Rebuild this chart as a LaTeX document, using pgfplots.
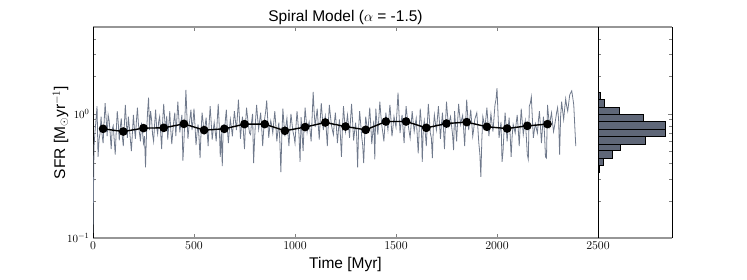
\documentclass[border=0pt]{standalone}
\usepackage{pgfplots}
\pgfplotsset{compat=1.18}
\usepackage{fontspec}
\setmainfont{Liberation Sans}
\definecolor{sfrline}{RGB}{112,122,140}
\definecolor{histfill}{RGB}{95,103,120}
\definecolor{spinegray}{RGB}{150,150,150}
\begin{document}
\begin{tikzpicture}
\useasboundingbox (0pt,0pt) rectangle (747pt,280pt);
\begin{axis}[
  at={(93pt,42pt)}, anchor=south west,
  width=505pt, height=211pt, scale only axis,
  xmin=0, xmax=2500, ymin=0.1, ymax=5,
  ymode=log,
  xtick={0,500,1000,1500,2000,2500},
  /pgf/number format/1000 sep={},
  tick align=inside,
  xtick pos=both, ytick pos=left,
  separate axis lines,
  x axis line style={spinegray, line width=1.1pt},
  y axis line style={black, line width=0.6pt},
  axis y line*=left,
  xticklabel style={font=\fontsize{12.5}{14}\selectfont},
  yticklabel style={font=\fontsize{11}{13}\selectfont},
  title={Spiral Model ($\alpha$ = -1.5)},
  title style={font=\fontsize{15.5}{17}\selectfont, yshift=-7pt},
  xlabel={Time [Myr]},
  ylabel={SFR [M$_\odot$yr$^{-1}$]},
  label style={font=\fontsize{15.5}{17}\selectfont},
  xlabel style={yshift=-1pt},
  ylabel style={yshift=-8pt},
  clip=true,
]
\addplot[sfrline, line width=0.8pt] coordinates {
(0,0.11)(5,0.55)(10,0.72)(15,0.90)(20,1.15)(25,0.45)(30,0.62)(35,0.70)(40,0.95)(45,0.68)(50,0.58)(55,0.85)(60,1.22)(65,0.92)(70,0.66)(75,0.98)(80,0.88)(85,0.70)(90,0.52)(95,0.75)
(100,0.80)(105,0.62)(110,0.47)(115,0.72)(120,1.05)(125,0.85)(130,0.61)(135,0.78)(140,0.92)(145,0.66)(150,0.55)(155,0.80)(160,1.18)(165,0.86)(170,0.64)(175,0.95)(180,0.78)(185,0.62)(190,0.50)(195,0.70)
(200,0.98)(205,0.76)(210,0.63)(215,0.88)(220,1.12)(225,0.82)(230,0.70)(235,0.60)(240,0.85)(245,0.72)(250,0.58)(255,0.66)(260,0.37)(265,0.70)(270,1.02)(275,1.35)(280,0.74)(285,1.05)(290,0.90)(295,0.68)
(300,0.60)(305,0.82)(310,1.08)(315,0.78)(320,0.69)(325,0.86)(330,0.95)(335,0.70)(340,0.52)(345,0.88)(350,1.20)(355,0.90)(360,0.73)(365,0.96)(370,0.62)(375,0.80)(380,1.05)(385,0.74)(390,0.57)(395,0.72)
(400,0.88)(405,1.02)(410,0.66)(415,0.90)(420,1.25)(425,0.92)(430,0.71)(435,0.84)(440,0.98)(445,0.42)(450,0.59)(455,0.92)(460,1.56)(465,0.96)(470,0.63)(475,0.78)(480,0.92)(485,1.08)(490,0.74)(495,0.86)
(500,1.10)(505,0.80)(510,0.56)(515,0.70)(520,0.82)(525,0.64)(530,0.44)(535,0.72)(540,1.02)(545,0.86)(550,0.68)(555,0.80)(560,0.93)(565,0.72)(570,0.55)(575,0.84)(580,1.15)(585,0.86)(590,0.62)(595,0.74)
(600,0.85)(605,0.72)(610,0.60)(615,0.88)(620,1.20)(625,0.80)(630,0.45)(635,0.72)(640,0.38)(645,0.82)(650,0.70)(655,0.88)(660,1.08)(665,0.76)(670,0.58)(675,0.74)(680,0.90)(685,0.78)(690,0.66)(695,0.84)
(700,1.05)(705,0.88)(710,0.74)(715,0.96)(720,1.30)(725,0.92)(730,0.63)(735,0.80)(740,0.95)(745,0.70)(750,0.52)(755,0.82)(760,1.12)(765,0.94)(770,0.80)(775,0.70)(780,0.68)(785,0.86)(790,1.00)(795,0.40)
(800,0.62)(805,0.90)(810,1.18)(815,0.92)(820,0.75)(825,0.88)(830,1.02)(835,0.78)(840,0.55)(845,0.74)(850,0.92)(855,1.05)(860,1.28)(865,0.90)(870,0.64)(875,0.78)(880,0.88)(885,0.80)(890,0.70)(895,0.86)
(900,1.05)(905,0.82)(910,0.60)(915,0.72)(920,0.85)(925,0.60)(930,0.34)(935,0.68)(940,1.10)(945,0.85)(950,0.66)(955,0.80)(960,0.92)(965,0.70)(970,0.55)(975,0.76)(980,1.00)(985,0.84)(990,0.72)(995,0.66)
(1000,0.58)(1005,0.80)(1010,1.05)(1015,0.84)(1020,0.67)(1025,0.41)(1030,0.94)(1035,0.70)(1040,0.50)(1045,0.78)(1050,1.12)(1055,0.90)(1060,0.71)(1065,0.80)(1070,0.86)(1075,0.72)(1080,0.60)(1085,0.96)(1090,1.50)(1095,1.02)
(1100,0.78)(1105,0.94)(1110,1.10)(1115,0.82)(1120,0.62)(1125,0.90)(1130,1.22)(1135,0.96)(1140,0.74)(1145,0.86)(1150,0.96)(1155,0.74)(1160,0.55)(1165,0.84)(1170,1.18)(1175,0.98)(1180,0.82)(1185,0.74)(1190,0.68)(1195,0.86)
(1200,1.02)(1205,0.78)(1210,0.58)(1215,0.74)(1220,0.90)(1225,0.66)(1230,0.45)(1235,0.78)(1240,1.15)(1245,0.90)(1250,0.72)(1255,0.84)(1260,0.98)(1265,0.80)(1270,0.64)(1275,0.90)(1280,1.20)(1285,0.88)(1290,0.61)(1295,0.72)
(1300,0.85)(1305,0.68)(1310,0.37)(1315,0.76)(1320,1.05)(1325,0.84)(1330,0.66)(1335,0.56)(1340,0.40)(1345,0.66)(1350,0.95)(1355,0.82)(1360,0.70)(1365,0.88)(1370,1.12)(1375,0.82)(1380,0.57)(1385,0.70)(1390,0.88)(1395,0.43)
(1400,1.10)(1405,0.86)(1410,0.68)(1415,0.92)(1420,1.25)(1425,0.98)(1430,0.80)(1435,0.70)(1440,0.60)(1445,0.80)(1450,1.02)(1455,0.86)(1460,0.74)(1465,0.94)(1470,1.18)(1475,0.90)(1480,0.66)(1485,0.78)(1490,0.95)(1495,0.86)
(1500,0.78)(1505,1.05)(1510,1.48)(1515,1.00)(1520,0.70)(1525,0.84)(1530,0.98)(1535,0.76)(1540,0.58)(1545,0.84)(1550,1.15)(1555,0.96)(1560,0.82)(1565,0.72)(1570,0.64)(1575,0.82)(1580,1.05)(1585,0.86)(1590,0.72)(1595,0.82)
(1600,0.92)(1605,0.68)(1610,0.48)(1615,0.76)(1620,1.10)(1625,0.86)(1630,0.41)(1635,0.76)(1640,0.88)(1645,0.70)(1650,0.55)(1655,0.82)(1660,1.20)(1665,0.92)(1670,0.70)(1675,0.64)(1680,0.44)(1685,0.78)(1690,0.98)(1695,0.84)
(1700,0.74)(1705,0.92)(1710,1.15)(1715,0.86)(1720,0.63)(1725,0.82)(1730,1.02)(1735,0.76)(1740,0.52)(1745,0.84)(1750,1.25)(1755,0.98)(1760,0.80)(1765,0.88)(1770,0.95)(1775,0.80)(1780,0.68)(1785,0.51)(1790,1.05)(1795,0.80)
(1800,0.60)(1805,0.86)(1810,1.20)(1815,0.98)(1820,0.82)(1825,0.90)(1830,0.97)(1835,0.74)(1840,0.55)(1845,0.88)(1850,1.30)(1855,0.96)(1860,0.74)(1865,0.90)(1870,1.08)(1875,0.84)(1880,0.66)(1885,0.76)(1890,0.90)(1895,0.96)
(1900,1.02)(1905,0.78)(1910,0.58)(1915,0.48)(1920,0.31)(1925,0.62)(1930,0.95)(1935,0.86)(1940,0.78)(1945,0.92)(1950,1.12)(1955,0.86)(1960,0.66)(1965,0.82)(1970,1.00)(1975,0.84)(1980,0.72)(1985,0.92)(1990,1.18)(1995,1.30)
(2000,1.61)(2005,1.00)(2010,0.64)(2015,0.74)(2020,0.86)(2025,0.41)(2030,0.50)(2035,0.74)(2040,1.02)(2045,0.80)(2050,0.60)(2055,0.76)(2060,0.93)(2065,0.68)(2070,0.45)(2075,0.66)(2080,0.82)(2085,0.76)(2090,0.70)(2095,0.84)
(2100,0.98)(2105,0.76)(2110,0.55)(2115,0.80)(2120,1.10)(2125,0.86)(2130,0.68)(2135,0.78)(2140,0.88)(2145,0.66)(2150,0.47)(2155,0.43)(2160,1.15)(2165,1.22)(2170,1.37)(2175,0.92)(2180,0.64)(2185,0.74)(2190,0.83)(2195,0.76)
(2200,0.70)(2205,0.88)(2210,1.05)(2215,0.80)(2220,0.58)(2225,0.76)(2230,0.95)(2235,0.70)(2240,0.45)(2245,0.44)(2250,1.18)(2255,0.96)(2260,0.80)(2265,0.92)(2270,1.02)(2275,0.84)(2280,0.72)(2285,0.80)(2290,0.90)(2295,1.02)
(2300,1.12)(2305,0.90)(2310,0.47)(2315,0.96)(2320,1.25)(2325,1.05)(2330,0.90)(2335,1.10)(2340,1.32)(2345,1.15)(2350,1.05)(2355,1.22)(2360,1.42)(2365,1.48)(2370,1.53)(2375,1.35)(2380,1.18)(2385,0.80)(2390,0.55)
};
\addplot[black, line width=1.4pt, mark=*, mark size=3.6pt] coordinates {
(50,0.757)(150,0.720)(250,0.767)(350,0.771)(450,0.830)(550,0.739)(650,0.757)(750,0.826)
(850,0.826)(950,0.730)(1050,0.782)(1150,0.851)(1250,0.790)(1350,0.743)(1450,0.867)(1550,0.867)
(1650,0.771)(1750,0.835)(1850,0.857)(1950,0.786)(2050,0.761)(2150,0.800)(2250,0.826)
};
\end{axis}
\begin{axis}[
  at={(598pt,42pt)}, anchor=south west,
  width=74pt, height=211pt, scale only axis,
  xmin=0, xmax=72, ymin=0.1, ymax=5,
  ymode=log,
  xtick=\empty,
  yticklabels={},
  tick align=inside,
  ytick pos=both,
  separate axis lines,
  x axis line style={spinegray, line width=1.1pt},
  y axis line style={black, line width=0.6pt},
]
\addplot[xbar interval, fill=histfill, draw=black, line width=0.6pt] coordinates {
(1.7,0.339)(5,0.383)(14,0.440)(21.7,0.504)(45.7,0.573)(65.5,0.656)(65.7,0.753)(44,0.867)(20.3,0.986)(5.7,1.132)(2.3,1.297)(0,1.486)
};
\end{axis}
\end{tikzpicture}
\end{document}
